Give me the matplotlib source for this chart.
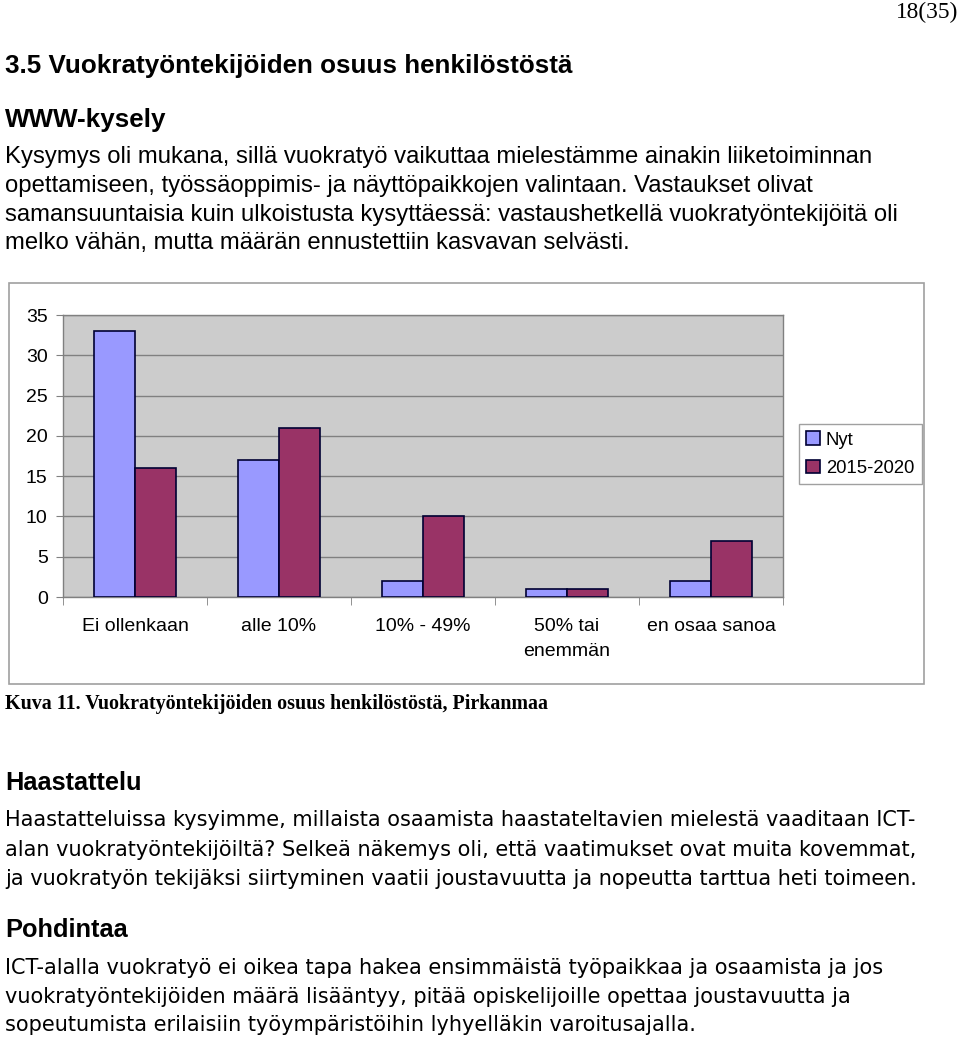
import matplotlib
matplotlib.use('Agg')
import matplotlib.pyplot as plt
import numpy as np
from matplotlib.patches import Rectangle

# Data
kategoriat = ['Ei ollenkaan', 'alle 10%', '10% - 49%', '50% tai\nenemmän', 'en osaa sanoa']
nyt = [33, 17, 2, 1, 2]
tuleva = [16, 21, 10, 1, 7]
sarjat = ['Nyt', '2015-2020']
yticks = [0, 5, 10, 15, 20, 25, 30, 35]

W, H = 960, 1042
fig = plt.figure(figsize=(W / 100, H / 100), dpi=100)

def fx(x):
    return x / W

def fy(y):
    return 1 - y / H

sans = 'Liberation Sans'
serif = 'Liberation Serif'
body2 = 'DejaVu Sans'

# page text, top
fig.text(fx(958), fy(12), '18(35)', family=serif, fontsize=16.8, ha='right', va='center')
fig.text(fx(5), fy(66), '3.5 Vuokratyöntekijöiden osuus henkilöstöstä', family=sans,
         fontweight='bold', fontsize=18.7, ha='left', va='center')
fig.text(fx(5), fy(120), 'WWW-kysely', family=sans, fontweight='bold', fontsize=18.7,
         ha='left', va='center')
rivit1 = ['Kysymys oli mukana, sillä vuokratyö vaikuttaa mielestämme ainakin liiketoiminnan',
          'opettamiseen, työssäoppimis- ja näyttöpaikkojen valintaan. Vastaukset olivat',
          'samansuuntaisia kuin ulkoistusta kysyttäessä: vastaushetkellä vuokratyöntekijöitä oli',
          'melko vähän, mutta määrän ennustettiin kasvavan selvästi.']
for i, r in enumerate(rivit1):
    fig.text(fx(5), fy(157 + i * 28.8), r, family=sans, fontsize=17.2, ha='left', va='center')

# chart frame
fig.patches.append(Rectangle((fx(9), fy(684)), fx(924) - fx(9), fy(283) - fy(684),
                             transform=fig.transFigure, fill=False,
                             edgecolor='#a0a0a0', linewidth=1.2, zorder=0))

ax = fig.add_axes([fx(63), fy(597), fx(783) - fx(63), fy(315) - fy(597)])
ax.set_facecolor('#cccccc')
x = np.arange(len(kategoriat))
w = 0.285
ax.bar(x - w / 2, nyt, w, color='#9999ff', edgecolor='#000033', linewidth=1.2,
       label=sarjat[0], zorder=3)
ax.bar(x + w / 2, tuleva, w, color='#993366', edgecolor='#000033', linewidth=1.2,
       label=sarjat[1], zorder=3)
ax.set_xlim(-0.5, len(kategoriat) - 0.5)
ax.set_ylim(0, 35)
ax.set_yticks(yticks)
ax.yaxis.grid(True, color='#808080', linewidth=1)
ax.set_axisbelow(True)
ax.set_xticks(x)
ax.set_xticklabels(kategoriat, family=sans, fontsize=14, linespacing=1.65, va='top')
ax.set_xticks(np.arange(-0.5, len(kategoriat)), minor=True)
ax.tick_params(axis='x', which='major', length=0, pad=15)
ax.tick_params(axis='x', which='minor', length=6, color='#808080', direction='out')
ax.tick_params(axis='y', length=5, color='#808080', pad=6, labelsize=14)
for lab in ax.get_yticklabels():
    lab.set_family(sans)
for s in ax.spines.values():
    s.set_color('#808080')
    s.set_linewidth(1)

leg = fig.legend(loc='upper left', bbox_to_anchor=(fx(799), fy(424)),
                 bbox_transform=fig.transFigure, prop={'family': sans, 'size': 13.3},
                 fancybox=False, framealpha=1, edgecolor='#a0a0a0',
                 handlelength=0.75, handleheight=0.75, handletextpad=0.3,
                 borderpad=0.4, labelspacing=0.6, borderaxespad=0)
leg.get_frame().set_linewidth(1)

fig.text(fx(5), fy(704), 'Kuva 11. Vuokratyöntekijöiden osuus henkilöstöstä, Pirkanmaa',
         family=serif, fontweight='bold', fontsize=14.4, ha='left', va='center')

# page text, bottom
fig.text(fx(5), fy(783), 'Haastattelu', family=sans, fontweight='bold', fontsize=18.3,
         ha='left', va='center')
rivit2 = ['Haastatteluissa kysyimme, millaista osaamista haastateltavien mielestä vaaditaan ICT-',
          'alan vuokratyöntekijöiltä? Selkeä näkemys oli, että vaatimukset ovat muita kovemmat,',
          'ja vuokratyön tekijäksi siirtyminen vaatii joustavuutta ja nopeutta tarttua heti toimeen.']
for i, r in enumerate(rivit2):
    fig.text(fx(5), fy(820 + i * 29.5), r, family=body2, fontsize=15, ha='left', va='center')
fig.text(fx(5), fy(930), 'Pohdintaa', family=sans, fontweight='bold', fontsize=18.3,
         ha='left', va='center')
rivit3 = ['ICT-alalla vuokratyö ei oikea tapa hakea ensimmäistä työpaikkaa ja osaamista ja jos',
          'vuokratyöntekijöiden määrä lisääntyy, pitää opiskelijoille opettaa joustavuutta ja',
          'sopeutumista erilaisiin työympäristöihin lyhyelläkin varoitusajalla.']
for i, r in enumerate(rivit3):
    fig.text(fx(5), fy(968 + i * 28.7), r, family=body2, fontsize=15, ha='left', va='center')

fig.savefig('out.png', dpi=100)
